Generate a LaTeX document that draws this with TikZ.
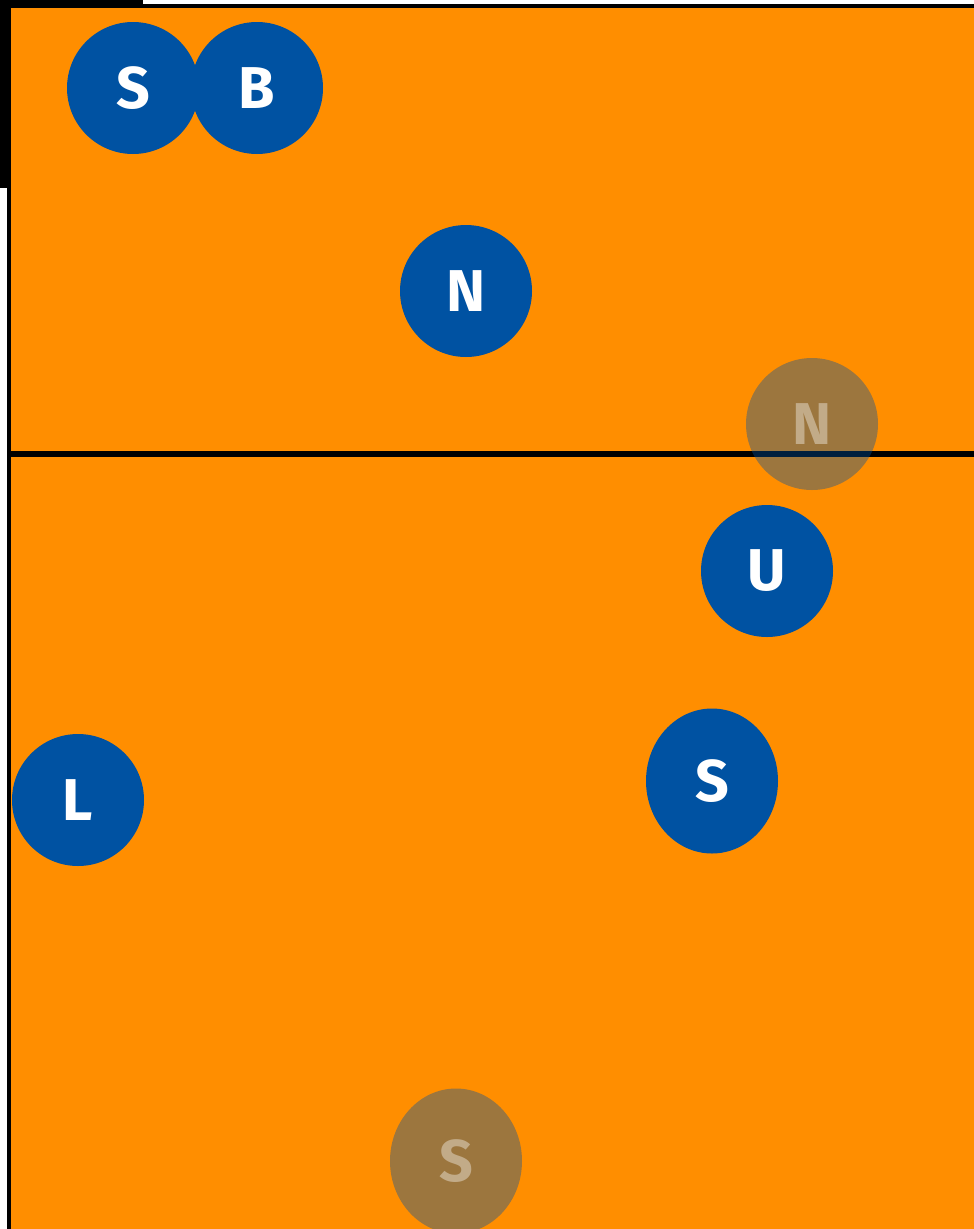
\documentclass[tikz,border=0pt]{standalone}
\usepackage{fontspec}
\setsansfont{Fira Sans}
\usepackage{tikz}
\usetikzlibrary{shapes.geometric}
\definecolor{court}{RGB}{255,142,0}
\definecolor{player}{RGB}{0,82,162}
\tikzset{
  pl/.style={circle, fill=player, text=white, minimum size=132pt, inner sep=0pt, font=\sffamily\bfseries\fontsize{59}{59}\selectfont},
  plov/.style={pl, ellipse, minimum width=132pt, minimum height=145pt},
  ghost/.style={opacity=0.39},
  courtline/.style={draw=black, line width=4pt}
}
\begin{document}
\begin{tikzpicture}[x=1pt, y=-1pt]
\useasboundingbox[fill=white] (0,0) rectangle (974,1229);
% court
\fill[black] (0,0) rectangle (143,188);
\fill[court] (9,6) rectangle (980,1235);
\draw[courtline] (9,1235) -- (9,6) -- (980,6);
\draw[courtline, line width=6pt] (9,454) -- (980,454);
% players, far side
\node[pl] (setter) at (133,88) {S};
\node[pl] (blocker) at (257,88) {B};
\node[pl] (netfar) at (466,291) {N};
\node[pl, ghost] (netghost) at (812,424) {N};
% players, near side
\node[pl] (upper) at (767,571) {U};
\node[plov] (setnear) at (712,781) {S};
\node[pl] (libero) at (78,800) {L};
\node[plov, ghost] (setghost) at (456,1161) {S};
\end{tikzpicture}
\end{document}
